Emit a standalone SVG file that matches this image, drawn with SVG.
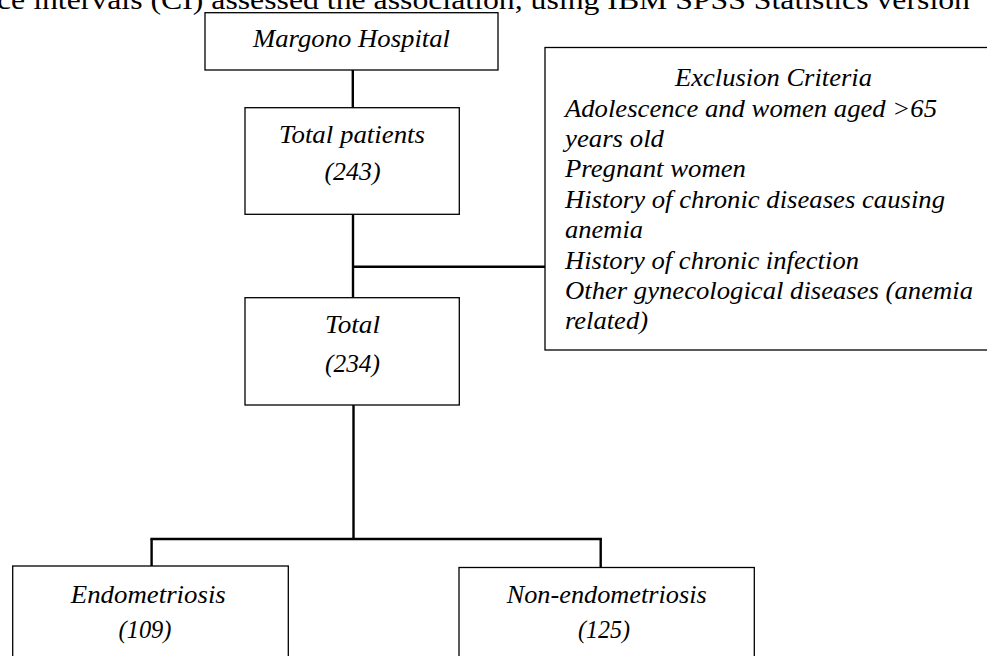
<svg xmlns="http://www.w3.org/2000/svg" width="987" height="656" viewBox="0 0 987 656">
<style>
.box{fill:#fff;stroke:#000;stroke-width:1.3}
.con{stroke:#000;stroke-width:2.4;fill:none}
.lbl{font-family:"Liberation Serif","Times New Roman",serif;font-style:italic;font-size:26px;fill:#000}
.mid{text-anchor:middle}
.hdr{font-family:"Liberation Serif","Times New Roman",serif;font-size:26.5px;fill:#000}
</style>
<rect width="987" height="656" fill="#fff"/>
<text class="hdr" x="-3" y="9" textLength="973" lengthAdjust="spacingAndGlyphs">ce intervals (CI) assessed the association, using IBM SPSS Statistics version</text>
<g id="connectors">
<line class="con" x1="352.8" y1="70" x2="352.8" y2="107.7"/>
<line class="con" x1="353" y1="214.3" x2="353" y2="297.7"/>
<line class="con" x1="353" y1="266.7" x2="545" y2="266.7"/>
<line class="con" x1="353.5" y1="405" x2="353.5" y2="539"/>
<line class="con" x1="150.4" y1="539" x2="601.9" y2="539"/>
<line class="con" x1="151.6" y1="539" x2="151.6" y2="566"/>
<line class="con" x1="600.7" y1="539" x2="600.7" y2="567.5"/>
</g>
<g id="margono">
<rect class="box" x="205" y="12.7" width="293" height="57.3"/>
<text class="lbl mid" x="351.5" y="46.7" textLength="197" lengthAdjust="spacingAndGlyphs">Margono Hospital</text>
</g>
<g id="total-patients">
<rect class="box" x="245" y="107.7" width="214.3" height="106.6"/>
<text class="lbl mid" x="352" y="143.3" textLength="146" lengthAdjust="spacingAndGlyphs">Total patients</text>
<text class="lbl mid" x="352.5" y="180" textLength="56" lengthAdjust="spacingAndGlyphs">(243)</text>
</g>
<g id="exclusion">
<rect class="box" x="545" y="47.5" width="460" height="302.5"/>
<text class="lbl mid" x="773.5" y="85.7" textLength="197" lengthAdjust="spacingAndGlyphs">Exclusion Criteria</text>
<text class="lbl" x="565" y="116.7" textLength="372" lengthAdjust="spacingAndGlyphs">Adolescence and women aged &gt;65</text>
<text class="lbl" x="565" y="146.7" textLength="99" lengthAdjust="spacingAndGlyphs">years old</text>
<text class="lbl" x="565" y="176.7" textLength="181" lengthAdjust="spacingAndGlyphs">Pregnant women</text>
<text class="lbl" x="565" y="208" textLength="380" lengthAdjust="spacingAndGlyphs">History of chronic diseases causing</text>
<text class="lbl" x="565" y="238" textLength="78" lengthAdjust="spacingAndGlyphs">anemia</text>
<text class="lbl" x="565" y="269" textLength="294" lengthAdjust="spacingAndGlyphs">History of chronic infection</text>
<text class="lbl" x="565" y="299" textLength="408" lengthAdjust="spacingAndGlyphs">Other gynecological diseases (anemia</text>
<text class="lbl" x="565" y="329" textLength="83" lengthAdjust="spacingAndGlyphs">related)</text>
</g>
<g id="total">
<rect class="box" x="245" y="297.7" width="214.3" height="107.3"/>
<text class="lbl mid" x="352.5" y="333.3" textLength="55" lengthAdjust="spacingAndGlyphs">Total</text>
<text class="lbl mid" x="352.5" y="371.7" textLength="55" lengthAdjust="spacingAndGlyphs">(234)</text>
</g>
<g id="endometriosis">
<rect class="box" x="12.7" y="566" width="275.6" height="120"/>
<text class="lbl mid" x="148.3" y="603.3" textLength="155" lengthAdjust="spacingAndGlyphs">Endometriosis</text>
<text class="lbl mid" x="145" y="638" textLength="53" lengthAdjust="spacingAndGlyphs">(109)</text>
</g>
<g id="non-endometriosis">
<rect class="box" x="459" y="567.5" width="295.3" height="120"/>
<text class="lbl mid" x="606.7" y="603.3" textLength="200" lengthAdjust="spacingAndGlyphs">Non-endometriosis</text>
<text class="lbl mid" x="604" y="638" textLength="52" lengthAdjust="spacingAndGlyphs">(125)</text>
</g>
</svg>
